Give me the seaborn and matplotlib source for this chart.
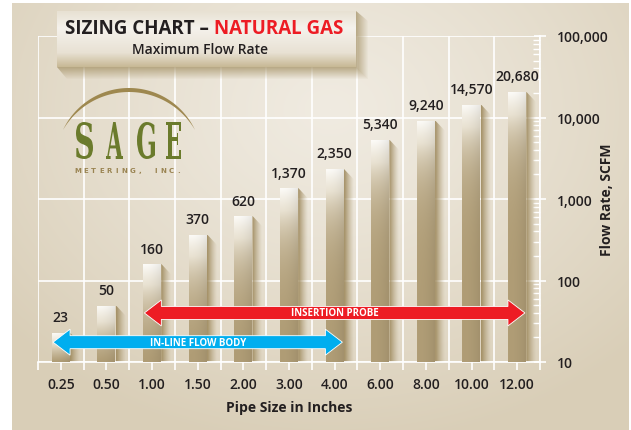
import numpy as np
import pandas as pd
import matplotlib
matplotlib.use('Agg')
import matplotlib.pyplot as plt
import matplotlib.colors as mcolors
import seaborn as sns
from matplotlib.patches import Polygon, PathPatch
from matplotlib.textpath import TextPath
from matplotlib.font_manager import FontProperties
from matplotlib.transforms import Affine2D, IdentityTransform
from matplotlib.ticker import LogLocator, FuncFormatter, NullFormatter

# data
pipe_sizes = ['0.25', '0.50', '1.00', '1.50', '2.00', '3.00', '4.00',
              '6.00', '8.00', '10.00', '12.00']
max_flow = [23, 50, 160, 370, 620, 1370, 2350, 5340, 9240, 14570, 20680]

arrow_labels = ['INSERTION PROBE', 'IN-LINE FLOW BODY']
arrow_from = ['1.00', '0.25']
arrow_to = ['12.00', '4.00']
arrow_level = [40, 17.5]
arrow_colors = ['#ed1c24', '#00aeef']

W, H = 631, 431
INK = '#231f20'

sns.set_theme(style='white')
plt.rcParams['font.family'] = ['Open Sans', 'DejaVu Sans']


def rgb(h):
    return np.array(mcolors.to_rgb(h))


def ramp(t, stops):
    pos = [s[0] for s in stops]
    cols = np.array([rgb(s[1]) for s in stops])
    return np.stack([np.interp(t, pos, cols[:, i]) for i in range(3)], axis=-1)


fig = plt.figure(figsize=(W / 100, H / 100), dpi=100, facecolor='white')

# ---- beige background panel
bg = fig.add_axes([0, 0, 1, 1], zorder=0)
yy, xx = np.mgrid[0:427, 0:617]
d = np.sqrt(((xx + 12 - 330) / 430) ** 2 + ((yy + 4 - 110) / 340) ** 2)
t = np.clip(d, 0, 1) ** 1.2
bg_img = rgb('#f0ebe1') * (1 - t[..., None]) + rgb('#d9ceb7') * t[..., None]
bg.imshow(bg_img, extent=(12, 629, 431, 4), aspect='auto', interpolation='bilinear')
bg.set_xlim(0, W)
bg.set_ylim(H, 0)
bg.axis('off')

# ---- main chart
ax = fig.add_axes([38 / W, (H - 363) / H, (540 - 38) / W, (363 - 37) / H], zorder=1)
ax.patch.set_alpha(0)

df = pd.DataFrame({'pipe': pipe_sizes, 'flow': max_flow})
sns.barplot(data=df, x='pipe', y='flow', ax=ax, width=0.4, color='white',
            saturation=1, linewidth=0, zorder=3)
ax.set_yscale('log')
ax.set_xlim(-0.5, 10.5)
ax.set_ylim(10, 1e5)
ax.autoscale(False)

bars = list(ax.patches)
v = np.linspace(0, 1, 80)[:, None]
u = np.linspace(0, 1, 20)[None, :]
face = ramp(v ** 1.1, [(0, '#fdfcf9'), (0.45, '#e9e2d2'), (1, '#b09d76')])
face = face * (1 - 0.08 * u ** 2)[..., None]
sh_alpha = 0.85 * (1 - np.linspace(0, 1, 20)) ** 1.3
shadow = np.zeros((2, 20, 4))
shadow[..., :3] = rgb('#9c875a')
shadow[..., 3] = sh_alpha
for p in bars:
    x0, w, h = p.get_x(), p.get_width(), p.get_height()
    p.set_facecolor('none')
    im = ax.imshow(face, extent=(x0, x0 + w, 10, h), aspect='auto',
                   interpolation='bilinear', zorder=3)
    im.set_clip_path(p)
    sx, sw = x0 + w, 0.22
    poly = Polygon([(sx, h), (sx + sw, h * 10 ** -0.13), (sx + sw, 10), (sx, 10)],
                   closed=True, facecolor='none', edgecolor='none', zorder=2.5)
    ax.add_patch(poly)
    sim = ax.imshow(shadow, extent=(sx, sx + sw, 10, h), aspect='auto',
                    interpolation='bilinear', zorder=2.5)
    sim.set_clip_path(poly)
    ax.annotate(f'{int(h):,}', (x0 + w / 2, h), xytext=(0, 6), textcoords='offset points',
                ha='center', va='bottom', fontsize=10, color=INK, fontweight='semibold')

ax.set_xlim(-0.5, 10.5)
ax.set_ylim(10, 1e5)

# grid and axes
ax.set_axisbelow(True)
ax.set_xticks(np.arange(-0.5, 11, 1), minor=True)
ax.grid(which='minor', axis='x', color='white', lw=1.2)
ax.grid(which='major', axis='y', color='white', lw=1.2)
ax.grid(which='major', axis='x', visible=False)
ax.yaxis.set_major_locator(LogLocator(base=10))
ax.yaxis.set_minor_locator(LogLocator(base=10, subs=range(2, 10)))
ax.yaxis.set_major_formatter(FuncFormatter(lambda val, pos: f'{val:,.0f}'))
ax.yaxis.set_minor_formatter(NullFormatter())
ax.yaxis.tick_right()
for s in ['left', 'top']:
    ax.spines[s].set_visible(False)
for s in ['right', 'bottom']:
    ax.spines[s].set_color('white')
    ax.spines[s].set_linewidth(1.2)
ax.tick_params(axis='y', which='major', direction='inout', length=9, width=1.2,
               color='white', labelsize=10, labelcolor=INK, pad=8,
               right=True, left=False, labelright=True, labelleft=False)
ax.tick_params(axis='y', which='minor', direction='in', length=5, width=1,
               color='white', right=True, left=False)
ax.tick_params(axis='x', which='both', direction='out', length=6, width=1.2,
               color='white', labelsize=10, labelcolor=INK, pad=5, bottom=True)
for lab in ax.get_xticklabels() + ax.get_yticklabels():
    lab.set_fontweight('semibold')
ax.set_xlabel('Pipe Size in Inches', fontsize=10, fontweight='bold', color=INK, labelpad=6)
ax.set_ylabel('')
ax.text(1.133, 0.5, 'Flow Rate, SCFM', transform=ax.transAxes, rotation=90,
        ha='center', va='center', fontsize=10, fontweight='bold', color=INK)

# ---- range arrows (drawn in pixel space so the heads keep their shape)
fig.canvas.draw()
for label, a, b, lvl, col in zip(arrow_labels, arrow_from, arrow_to, arrow_level, arrow_colors):
    ia, ib = pipe_sizes.index(a), pipe_sizes.index(b)
    xa, ya = ax.transData.transform((ia - 0.17, lvl))
    xb, _ = ax.transData.transform((ib + 0.17, lvl))
    bh, hh, hl = 6.5, 13, 17
    verts = [(xa, ya), (xa + hl, ya + hh), (xa + hl, ya + bh), (xb - hl, ya + bh),
             (xb - hl, ya + hh), (xb, ya), (xb - hl, ya - hh), (xb - hl, ya - bh),
             (xa + hl, ya - bh), (xa + hl, ya - hh)]
    ax.add_patch(Polygon(verts, closed=True, facecolor=col, edgecolor='white',
                         lw=0.6, transform=IdentityTransform(), zorder=5))
    ax.text((ia + ib) / 2, lvl, label, ha='center', va='center', fontsize=7,
            fontweight='bold', color='white', zorder=6)

# ---- title box and logo overlay
ov = fig.add_axes([0, 0, 1, 1], zorder=3)
ov.set_xlim(0, W)
ov.set_ylim(H, 0)
ov.axis('off')

gy, gx = np.mgrid[12:81, 57:369]
da = np.maximum(np.maximum(gx - 356, 0) / 12, np.maximum(gy - 68, 0) / 12)
sh = np.zeros(gx.shape + (4,))
sh[..., :3] = rgb('#a8966c')
sh[..., 3] = 0.75 * np.clip(1 - da, 0, 1)
sh_poly = Polygon([(57, 68), (67, 80), (368, 80), (368, 22), (356, 12), (356, 68)],
                  closed=True, facecolor='none', edgecolor='none')
ov.add_patch(sh_poly)
shim = ov.imshow(sh, extent=(57, 369, 81, 12), aspect='auto', interpolation='bilinear')
shim.set_clip_path(sh_poly)

box = ramp(np.linspace(0, 1, 60)[:, None] * np.ones((1, 4)),
           [(0, '#e8e1d3'), (0.3, '#f5f2ec'), (0.75, '#e8e1d3'), (1, '#c8b996')])
ov.imshow(box, extent=(57, 356, 68, 12), aspect='auto', interpolation='bilinear')
ov.set_xlim(0, W)
ov.set_ylim(H, 0)

t1 = ov.text(65, 29, 'SIZING CHART – ', ha='left', va='center', fontsize=13.5,
             fontweight='bold', color=INK)
fig.canvas.draw()
ov.annotate('NATURAL GAS', xy=(1, 0), xycoords=t1, va='bottom', ha='left',
            fontsize=13.5, fontweight='bold', color='#ed1c24')
ov.text(200, 50, 'Maximum Flow Rate', ha='center', va='center', fontsize=10,
        fontweight='semibold', color=INK)

# logo arc
th = np.linspace(-1, 1, 120)
def arc(sag, half=66, base=131, cx=129):
    R = (half ** 2 + sag ** 2) / (2 * sag)
    a = np.arcsin(half / R)
    cyy = base - sag + R
    return np.c_[cx + R * np.sin(th * a), cyy - R * np.cos(th * a)]
crescent = np.vstack([arc(42), arc(38)[::-1]])
ov.add_patch(Polygon(crescent, closed=True, facecolor='#9e884f', edgecolor='none'))

fp = FontProperties(family='DejaVu Serif', weight='bold')
for ch, (l, r) in zip('SAGE', [(76, 93), (106, 123), (137, 155), (166, 181)]):
    tp = TextPath((0, 0), ch, size=10, prop=fp)
    bb = tp.get_extents()
    tr = Affine2D().translate(-bb.x0, -bb.y0).scale((r - l) / bb.width, -(160 - 123) / bb.height).translate(l, 160)
    ov.add_patch(PathPatch(tr.transform_path(tp), facecolor='#6b7b2c', edgecolor='none'))
for ch, xc in zip('METERING, INC.', np.linspace(78, 179, 14)):
    ov.text(xc, 171, ch, ha='center', va='center', fontsize=5, fontweight='bold',
            color='#9a8452', family='DejaVu Sans')

fig.savefig('out.png', dpi=100, facecolor='white')
